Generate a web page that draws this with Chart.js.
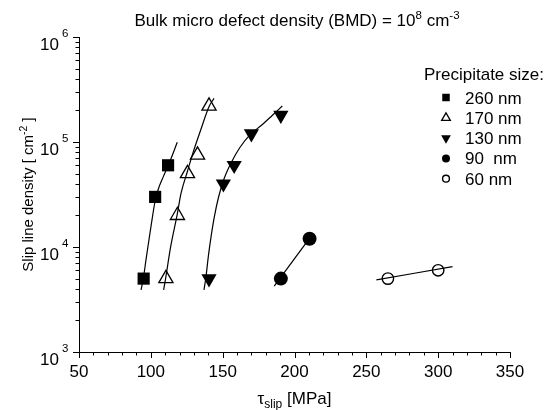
<!DOCTYPE html>
<html>
<head>
<meta charset="utf-8">
<script src="https://cdn.jsdelivr.net/npm/chart.js@4.4.1/dist/chart.umd.min.js"></script>
<style>
  html, body { margin: 0; padding: 0; background: #fff; }
  #wrap { width: 548px; height: 410px; }
</style>
</head>
<body>
<div id="wrap"><canvas id="myChart" width="548" height="410"></canvas></div>
<script>
const FONT = "'Liberation Sans', Arial, Helvetica, sans-serif";

// measured points (tau_slip in MPa, slip line density in cm^-2)
const x260 = [95, 103, 112];
const y260 = [5000, 30000, 60000];
const x170 = [110.5, 118.5, 125.5, 132.5, 140.5];
const y170 = [5000, 20000, 50000, 75000, 220000];
const x130 = [140.5, 150.5, 158, 170, 190.5];
const y130 = [5000, 40000, 60000, 120000, 180000];
const x90 = [190.5, 210.5];
const y90 = [5000, 12000];
const x60 = [265, 300];
const y60 = [5000, 6000];

// fit curves
const fit260X = [93.2, 94.8, 96.6, 98.7, 100.8, 102.7, 105, 108.7, 112.9, 118.4];
const fit260Y = [3900, 5030, 7500, 11700, 18100, 26100, 34900, 46800, 63500, 99300];
const fit170X = [108.9, 110.3, 113.8, 118.4, 121, 125.4, 129.6, 134.7, 140.7, 144];
const fit170Y = [3900, 5030, 10070, 20600, 32400, 52100, 80900, 130000, 220000, 260000];
const fit130X = [137, 138.4, 140, 141.9, 144.2, 147.2, 151.1, 156.3, 162.1, 169, 177.2, 184.1, 191.5];
const fit130Y = [3900, 5210, 8090, 12500, 19400, 30100, 45100, 64900, 89100, 116700, 145200, 177000, 220000];
const fit90X = [185.9, 210.3];
const fit90Y = [4250, 12000];
const fit60X = [257, 310];
const fit60Y = [4870, 6500];

const xTicks = [50, 100, 150, 200, 250, 300, 350];
const yTicks = [1e3, 1e4, 1e5, 1e6];
const yTickExp = ["3", "4", "5", "6"];
const sizeLabels = ["260 nm", "170 nm", "130 nm", "90  nm", "60 nm"];

function pts(xs, ys) {
  return xs.map((x, i) => ({ x: x, y: ys[i] }));
}

function fitSet(xs, ys) {
  return {
    data: pts(xs, ys),
    showLine: true,
    pointRadius: 0,
    borderColor: "#000",
    borderWidth: 1.2,
    cubicInterpolationMode: "monotone",
    fill: false,
  };
}

const markers = [
  { style: "rect", rot: 0, r: 8.6, fill: "#000", bw: 0, lr: 5.3 },
  { style: "triangle", rot: 0, r: 8.2, fill: "rgba(0,0,0,0)", bw: 1.3, lr: 5 },
  { style: "triangle", rot: 180, r: 8.8, fill: "#000", bw: 0, lr: 5.6 },
  { style: "circle", rot: 0, r: 7, fill: "#000", bw: 0, lr: 4 },
  { style: "circle", rot: 0, r: 5.7, fill: "rgba(0,0,0,0)", bw: 1.4, lr: 3.4 },
];

function markSet(xs, ys, m) {
  return {
    data: pts(xs, ys),
    showLine: false,
    pointStyle: m.style,
    rotation: m.rot,
    pointRadius: m.r,
    pointBackgroundColor: m.fill,
    pointBorderColor: "#000",
    pointBorderWidth: m.bw,
  };
}

function drawRuns(ctx, runs, x, y, align) {
  let w = 0;
  runs.forEach((r) => {
    ctx.font = r[1] + "px " + FONT;
    w += ctx.measureText(r[0]).width;
  });
  let cx = align === "center" ? x - w / 2 : align === "right" ? x - w : x;
  ctx.textAlign = "left";
  ctx.textBaseline = "alphabetic";
  runs.forEach((r) => {
    ctx.font = r[1] + "px " + FONT;
    ctx.fillText(r[0], cx, y + r[2]);
    cx += ctx.measureText(r[0]).width;
  });
}

const decor = {
  id: "decor",
  afterDraw(chart) {
    const ctx = chart.ctx;
    const xs = chart.scales.x;
    const ys = chart.scales.y;
    const area = chart.chartArea;
    ctx.save();
    ctx.strokeStyle = "#000";
    ctx.fillStyle = "#000";
    ctx.lineWidth = 1;

    // x ticks, outward
    ctx.beginPath();
    for (let v = 50; v <= 350; v += 10) {
      const px = Math.round(xs.getPixelForValue(v)) + 0.5;
      const len = v % 50 === 0 ? 6 : 3.5;
      ctx.moveTo(px, area.bottom);
      ctx.lineTo(px, area.bottom + len);
    }
    // y ticks, outward
    for (let d = 1e3; d <= 1e6; d *= 10) {
      for (let m = 1; m <= 9; m++) {
        const v = m * d;
        if (v > 1e6) break;
        const py = Math.round(ys.getPixelForValue(v)) + 0.5;
        const len = m === 1 ? 6 : 3.5;
        ctx.moveTo(area.left, py);
        ctx.lineTo(area.left - len, py);
      }
    }
    ctx.stroke();

    // y tick labels 10^n
    yTicks.forEach((v, i) => {
      const py = ys.getPixelForValue(v);
      ctx.font = "17px " + FONT;
      ctx.textAlign = "right";
      ctx.textBaseline = "alphabetic";
      ctx.fillText("10", 59, py + 13);
      ctx.font = "11.5px " + FONT;
      ctx.textAlign = "left";
      ctx.fillText(yTickExp[i], 62, py - 0.5);
    });

    // title
    drawRuns(ctx, [
      ["Bulk micro defect density (BMD) = 10", 17, 0],
      ["8", 11.5, -7],
      [" cm", 17, 0],
      ["-3", 11.5, -7],
    ], 297, 26, "center");

    // x title
    drawRuns(ctx, [
      ["\u03c4", 17, 0],
      ["slip", 12, 4],
      [" [MPa]", 17, 0],
    ], (area.left + area.right) / 2, 404, "center");

    // y title
    ctx.save();
    ctx.translate(33, (area.top + area.bottom) / 2);
    ctx.rotate(-Math.PI / 2);
    drawRuns(ctx, [
      ["Slip line density [ cm", 15, 0],
      ["-2", 10.5, -6],
      [" ]", 15, 0],
    ], 0, 0, "center");
    ctx.restore();

    // legend
    ctx.font = "17px " + FONT;
    ctx.textAlign = "left";
    ctx.textBaseline = "alphabetic";
    ctx.fillText("Precipitate size:", 424, 80);
    sizeLabels.forEach((lab, i) => {
      const cy = 97.5 + i * 20.3;
      const m = markers[i];
      ctx.fillStyle = m.fill;
      ctx.strokeStyle = "#000";
      ctx.lineWidth = m.bw;
      Chart.helpers.drawPoint(ctx, {
        pointStyle: m.style,
        rotation: m.rot,
        radius: m.lr,
        borderWidth: m.bw,
      }, 446, cy);
      ctx.fillStyle = "#000";
      ctx.font = "17px " + FONT;
      ctx.fillText(lab, 465, cy + 6);
    });
    ctx.restore();
  },
};

const ctx = document.getElementById("myChart");
const myChart = new Chart(ctx, {
  type: "scatter",
  data: {
    datasets: [
      fitSet(fit260X, fit260Y),
      fitSet(fit170X, fit170Y),
      fitSet(fit130X, fit130Y),
      fitSet(fit90X, fit90Y),
      fitSet(fit60X, fit60Y),
      markSet(x260, y260, markers[0]),
      markSet(x170, y170, markers[1]),
      markSet(x130, y130, markers[2]),
      markSet(x90, y90, markers[3]),
      markSet(x60, y60, markers[4]),
    ],
  },
  options: {
    responsive: false,
    animation: false,
    events: [],
    layout: { padding: { left: 0, right: 38, top: 37, bottom: 0 } },
    plugins: {
      legend: { display: false },
      title: { display: false },
      tooltip: { enabled: false },
    },
    scales: {
      x: {
        type: "linear",
        min: 50,
        max: 350,
        afterBuildTicks: (s) => {
          s.ticks = xTicks.map((v) => ({ value: v }));
        },
        afterFit: (s) => {
          s.height = 58;
        },
        ticks: {
          color: "#000",
          font: { family: FONT, size: 17 },
          padding: 10,
          maxRotation: 0,
          autoSkip: false,
        },
        grid: { display: false, drawTicks: false },
        border: { display: true, color: "#000", width: 1 },
      },
      y: {
        type: "logarithmic",
        min: 1000,
        max: 1000000,
        afterFit: (s) => {
          s.width = 79;
        },
        ticks: { display: false },
        grid: { display: false, drawTicks: false },
        border: { display: true, color: "#000", width: 1 },
      },
    },
  },
  plugins: [decor],
});
</script>
</body>
</html>
